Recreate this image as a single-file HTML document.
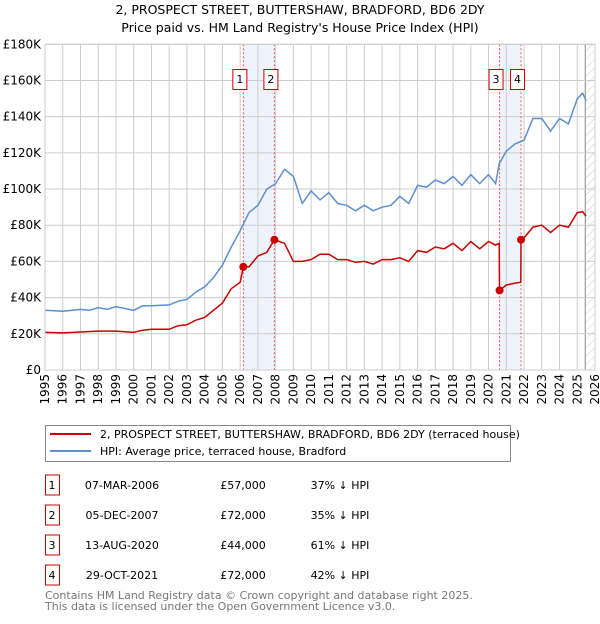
<!DOCTYPE html>
<html><head><meta charset="utf-8"><style>
body{margin:0;background:#fff;font-family:"DejaVu Sans","Liberation Sans",sans-serif;}
</style></head><body>
<svg width="600" height="620" xmlns="http://www.w3.org/2000/svg" font-family="DejaVu Sans, Liberation Sans, sans-serif">
<defs><pattern id="hatch" width="6" height="6" patternUnits="userSpaceOnUse" patternTransform="rotate(45)"><line x1="0" y1="0" x2="0" y2="6" stroke="#ccc" stroke-width="1"/></pattern></defs>
<text x="300" y="14" text-anchor="middle" font-size="12.5">2, PROSPECT STREET, BUTTERSHAW, BRADFORD, BD6 2DY</text>
<text x="300" y="32" text-anchor="middle" font-size="12.5">Price paid vs. HM Land Registry's House Price Index (HPI)</text>
<g id="plot"></g>
<g>
<rect x="45.5" y="425.5" width="465" height="36" fill="#fff" stroke="#888"/>
<line x1="50" y1="434" x2="91" y2="434" stroke="#cc0000" stroke-width="2"/>
<text x="100" y="438" font-size="11">2, PROSPECT STREET, BUTTERSHAW, BRADFORD, BD6 2DY (terraced house)</text>
<line x1="50" y1="451" x2="91" y2="451" stroke="#5b8fd0" stroke-width="2"/>
<text x="100" y="455" font-size="11">HPI: Average price, terraced house, Bradford</text>
</g>
<g id="table" font-size="11"></g>
<text x="45" y="599" font-size="11" fill="#777">Contains HM Land Registry data © Crown copyright and database right 2025.</text>
<text x="45" y="610" font-size="11" fill="#777">This data is licensed under the Open Government Licence v3.0.</text>
</svg>
<script>
const hpiT=[1995,1996,1997,1997.5,1998,1998.5,1999,2000,2000.5,2001,2002,2002.5,2003,2003.5,2004,2004.5,2005,2005.5,2006,2006.5,2007,2007.5,2008,2008.5,2009,2009.5,2010,2010.5,2011,2011.5,2012,2012.5,2013,2013.5,2014,2014.5,2015,2015.5,2016,2016.5,2017,2017.5,2018,2018.5,2019,2019.5,2020,2020.4,2020.6,2021,2021.5,2022,2022.5,2023,2023.5,2024,2024.5,2025,2025.3,2025.5];
const hpiV=[33,32.5,33.5,33,34.5,33.5,35,33,35.5,35.5,36,38,39,43,46,51,58,68,77,87,91,100,103,111,107,92,99,94,98,92,91,88,91,88,90,91,96,92,102,101,105,103,107,102,108,103,108,103,114,121,125,127,139,139,132,139,136,150,153,149];
const redT=[1995,1996,1997,1998,1999,2000,2000.5,2001,2002,2002.5,2003,2003.5,2004,2004.5,2005,2005.5,2006,2006.18,2006.5,2007,2007.5,2007.93,2008.5,2009,2009.5,2010,2010.5,2011,2011.5,2012,2012.5,2013,2013.5,2014,2014.5,2015,2015.5,2016,2016.5,2017,2017.5,2018,2018.5,2019,2019.5,2020,2020.4,2020.6,2020.62,2021,2021.5,2021.82,2021.83,2022,2022.5,2023,2023.5,2024,2024.5,2025,2025.3,2025.5];
const redV=[20.8,20.5,21,21.5,21.5,20.8,22,22.5,22.5,24.5,25,27.5,29,33,37,45,48.5,57,57,63,65,72,70,60,60,61,64,64,61,61,59.5,60,58.5,61,61,62,60,66,65,68,67,70,66,71,67,71,69,70,44,47,48,48.5,72,73,79,80,76,80,79,87,87.5,85];
const saleT=[2006.18,2007.93,2020.62,2021.83];
const saleV=[57,72,44,72];
const saleLabels=["1","2","3","4"];
const saleDates=["07-MAR-2006","05-DEC-2007","13-AUG-2020","29-OCT-2021"];
const salePrices=["£57,000","£72,000","£44,000","£72,000"];
const salePct=["37% ↓ HPI","35% ↓ HPI","61% ↓ HPI","42% ↓ HPI"];
const yTicks=[0,20,40,60,80,100,120,140,160,180];
const yTickLabels=["£0","£20K","£40K","£60K","£80K","£100K","£120K","£140K","£160K","£180K"];
const xYears=[];for(let y=1995;y<=2026;y++)xYears.push(y);

const X0=45,X1=595,Y0=370,Y1=44.3;
const xs=t=>X0+(t-1995)/(2026-1995)*(X1-X0);
const ys=v=>Y0-v/180*(Y0-Y1);
const NS="http://www.w3.org/2000/svg";
const plot=document.getElementById('plot');
function mk(tag,at,parent){const e=document.createElementNS(NS,tag);for(const k in at)e.setAttribute(k,at[k]);(parent||plot).appendChild(e);return e;}
let s1=mk('rect',{x:xs(saleT[0]),y:Y1,width:xs(saleT[1])-xs(saleT[0]),height:Y0-Y1,fill:'#eef3fc'});


let s2=mk('rect',{x:xs(saleT[2]),y:Y1,width:xs(saleT[3])-xs(saleT[2]),height:Y0-Y1,fill:'#eef3fc'});


let hx=xs(2025.45);
let h=mk('rect',{x:hx,y:Y1,width:X1-hx,height:Y0-Y1,fill:'url(#hatch)'});


mk('line',{x1:hx,y1:Y1,x2:hx,y2:Y0,stroke:'#888','stroke-width':1});
xYears.forEach(y=>{
 const g=mk('line',{x1:xs(y),y1:Y1,x2:xs(y),y2:Y0,stroke:'#ccc','stroke-width':1});
 
 
 const t=mk('text',{x:0,y:0,'font-size':12,'text-anchor':'end',transform:`translate(${xs(y)+4},${Y0+4}) rotate(-90)`});
 t.textContent=y;
 
 
});
yTicks.forEach((v,i)=>{
 const g=mk('line',{x1:X0,y1:ys(v),x2:X1,y2:ys(v),stroke:'#ccc','stroke-width':1});
 
 
 const t=mk('text',{x:X0-4,y:ys(v)+4,'font-size':12,'text-anchor':'end'});
 t.textContent=yTickLabels[i];
 
 
});
saleT.forEach(t=>{
 const l=mk('line',{x1:xs(t),y1:Y1,x2:xs(t),y2:Y0,stroke:'#ee5555','stroke-width':1,'stroke-dasharray':'2,2'});
 
 
});
const hp=mk('path',{d:hpiT.map((t,i)=>(i?'L':'M')+xs(t).toFixed(1)+','+ys(hpiV[i]).toFixed(1)).join(''),fill:'none',stroke:'#5b8fd0','stroke-width':1.5});


const rp=mk('path',{d:redT.map((t,i)=>(i?'L':'M')+xs(t).toFixed(1)+','+ys(redV[i]).toFixed(1)).join(''),fill:'none',stroke:'#cc0000','stroke-width':1.5});


saleT.forEach((t,i)=>{
 const c=mk('circle',{cx:xs(t),cy:ys(saleV[i]),r:4,fill:'#cc0000'});
 
 
 const b=mk('rect',{x:xs(t)-10.5,y:69.5,width:14,height:20,fill:'#fff',stroke:'#cc0000'});
 
 
 const tx=mk('text',{x:xs(t)-3.5,y:83,'font-size':11,'text-anchor':'middle'});
 tx.textContent=saleLabels[i];
 
 
});
const ax=mk('rect',{x:X0,y:Y1,width:X1-X0,height:Y0-Y1,fill:'none',stroke:'#ccc'});


const tb=document.getElementById('table');
saleLabels.forEach((l,i)=>{
 const y=492+i*30;
 const b=mk('rect',{x:45.5,y:y-17,width:14,height:20,fill:'#fff',stroke:'#cc0000'},tb);
 
 
 const vals=[[52,l],[122,saleDates[i]],[243,salePrices[i]],[340,salePct[i]]];
 vals.forEach(([x,s],j)=>{
  const t=mk('text',{x:x,y:y-3,'text-anchor':'middle'},tb);
  t.textContent=s;
  
  
 });
});
</script>
</body></html>
